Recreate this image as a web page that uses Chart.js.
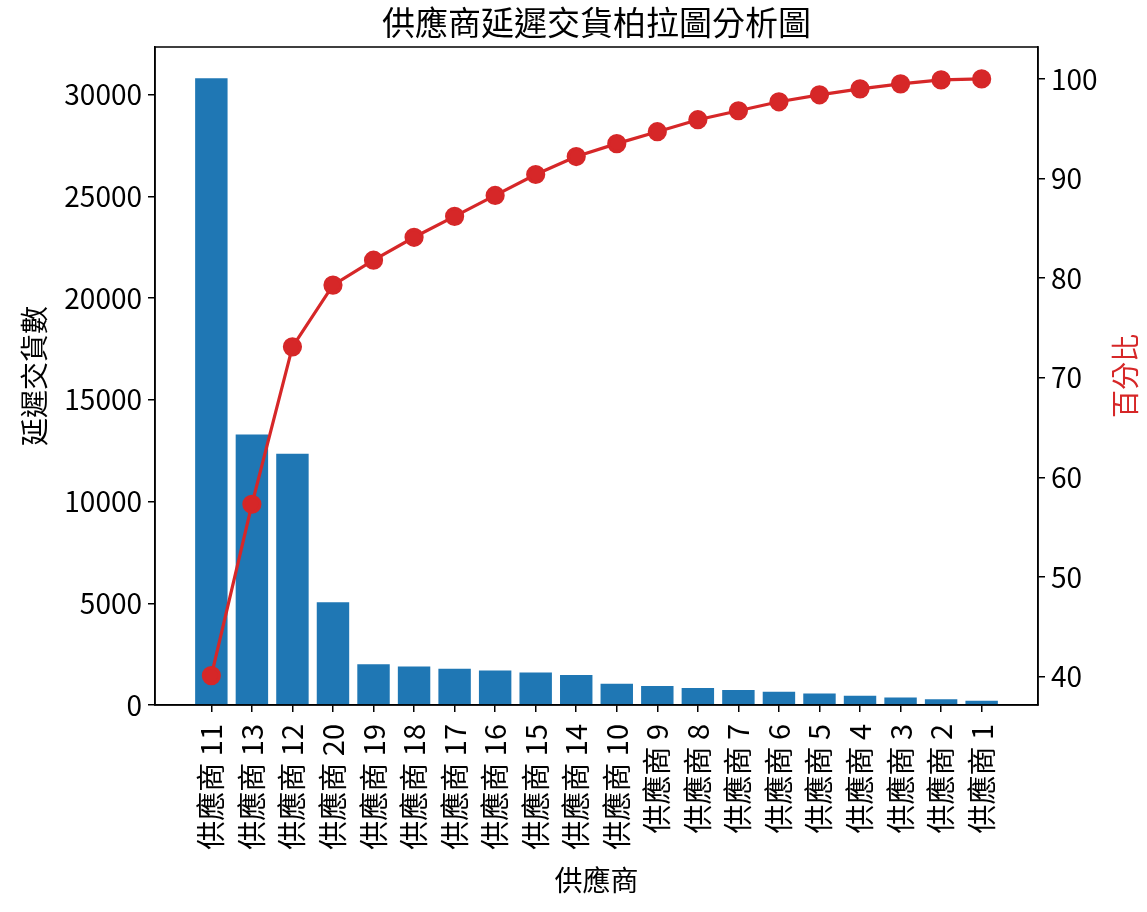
<!DOCTYPE html>
<html lang="zh-Hant">
<head>
<meta charset="UTF-8" />
<title>供應商延遲交貨柏拉圖分析圖</title>
<script src="https://cdn.jsdelivr.net/npm/chart.js"></script>
<style>
  html, body { margin: 0; padding: 0; background: #fff; }
  #wrap { width: 1147px; height: 912px; }
</style>
</head>
<body>
<div id="wrap"><canvas id="pareto" width="1147" height="912"></canvas></div>
<script>
// values
const suppliers = ["供應商 11", "供應商 13", "供應商 12", "供應商 20", "供應商 19", "供應商 18", "供應商 17",
    "供應商 16", "供應商 15", "供應商 14", "供應商 10", "供應商 9", "供應商 8", "供應商 7", "供應商 6",
    "供應商 5", "供應商 4", "供應商 3", "供應商 2", "供應商 1"];
const delayCounts = [30800, 13300, 12350, 5050, 2000, 1890, 1780, 1690, 1600, 1480,
    1040, 935, 835, 740, 650, 560, 460, 370, 280, 210];
const cumPercent = [40.1, 57.3, 73.1, 79.3, 81.8, 84.1, 86.2, 88.3, 90.4, 92.2,
    93.5, 94.7, 95.9, 96.8, 97.7, 98.4, 99.0, 99.5, 99.9, 100];
const countTicks = [0, 5000, 10000, 15000, 20000, 25000, 30000];
const percentTicks = [40, 50, 60, 70, 80, 90, 100];

const FONT = "'Noto Sans CJK TC', 'Noto Sans CJK SC', 'DejaVu Sans', sans-serif";
const BLUE = "#1f77b4";
const RED = "#d62728";

// title, right axis label and the axes frame (matplotlib style)
const extras = {
    id: "extras",
    afterDraw(chart) {
        const { ctx, chartArea: a } = chart;
        ctx.save();
        ctx.strokeStyle = "#000";
        ctx.lineWidth = 1.5;
        ctx.strokeRect(a.left, a.top, a.right - a.left, a.bottom - a.top);

        ctx.fillStyle = "#000";
        ctx.font = `33px ${FONT}`;
        ctx.textAlign = "center";
        ctx.textBaseline = "middle";
        ctx.fillText("供應商延遲交貨柏拉圖分析圖", (a.left + a.right) / 2, 22);

        ctx.translate(a.right + 87, (a.top + a.bottom) / 2);
        ctx.rotate(-Math.PI / 2);
        ctx.fillStyle = RED;
        ctx.font = `28px ${FONT}`;
        ctx.fillText("百分比", 0, 0);
        ctx.restore();
    }
};

const tickGrid = {
    offset: false,
    drawOnChartArea: false,
    drawTicks: true,
    tickLength: 7,
    tickColor: "#000",
    lineWidth: 1.5
};

new Chart(document.getElementById("pareto"), {
    type: "bar",
    data: {
        datasets: [
            {
                type: "line",
                data: cumPercent.map((p, i) => ({ x: i, y: p })),
                yAxisID: "y1",
                borderColor: RED,
                backgroundColor: RED,
                borderWidth: 3.2,
                pointRadius: 8,
                pointBackgroundColor: RED,
                pointBorderColor: RED,
                tension: 0,
                order: 1
            },
            {
                type: "bar",
                data: delayCounts.map((v, i) => ({ x: i, y: v })),
                yAxisID: "y",
                backgroundColor: BLUE,
                borderWidth: 0,
                barPercentage: 0.8,
                categoryPercentage: 1,
                order: 2
            }
        ]
    },
    options: {
        responsive: false,
        devicePixelRatio: 1,
        animation: false,
        layout: { padding: { left: 10, right: 0, top: 47, bottom: 10 } },
        plugins: {
            legend: { display: false },
            tooltip: { enabled: false },
            title: { display: false }
        },
        scales: {
            x: {
                type: "linear",
                offset: false,
                min: -1.39,
                max: 20.39,
                afterBuildTicks: s => { s.ticks = suppliers.map((_, i) => ({ value: i })); },
                afterFit: s => { s.height = 197; },
                ticks: {
                    autoSkip: false,
                    maxRotation: 90,
                    minRotation: 90,
                    padding: 12,
                    color: "#000",
                    font: { family: FONT, size: 29 },
                    callback: v => suppliers[v]
                },
                grid: tickGrid,
                border: { color: "#000", width: 1.5 },
                title: {
                    display: true,
                    text: "供應商",
                    color: "#000",
                    font: { family: FONT, size: 28 },
                    padding: { top: 0, bottom: 5 }
                }
            },
            y: {
                position: "left",
                min: 0,
                max: 32340,
                afterBuildTicks: s => { s.ticks = countTicks.map(v => ({ value: v })); },
                afterFit: s => { s.width = 145; },
                ticks: {
                    padding: 6,
                    color: "#000",
                    font: { family: FONT, size: 28 },
                    callback: v => String(v)
                },
                grid: tickGrid,
                border: { color: "#000", width: 1.5 },
                title: {
                    display: true,
                    text: "延遲交貨數",
                    color: "#000",
                    font: { family: FONT, size: 28 },
                    padding: { top: 8, bottom: 0 }
                }
            },
            y1: {
                position: "right",
                min: 37.15,
                max: 103.2,
                afterBuildTicks: s => { s.ticks = percentTicks.map(v => ({ value: v })); },
                afterFit: s => { s.width = 109; },
                ticks: {
                    padding: 6,
                    color: "#000",
                    font: { family: FONT, size: 28 },
                    callback: v => String(v)
                },
                grid: tickGrid,
                border: { color: "#000", width: 1.5 }
            }
        }
    },
    plugins: [extras]
});
</script>
</body>
</html>
